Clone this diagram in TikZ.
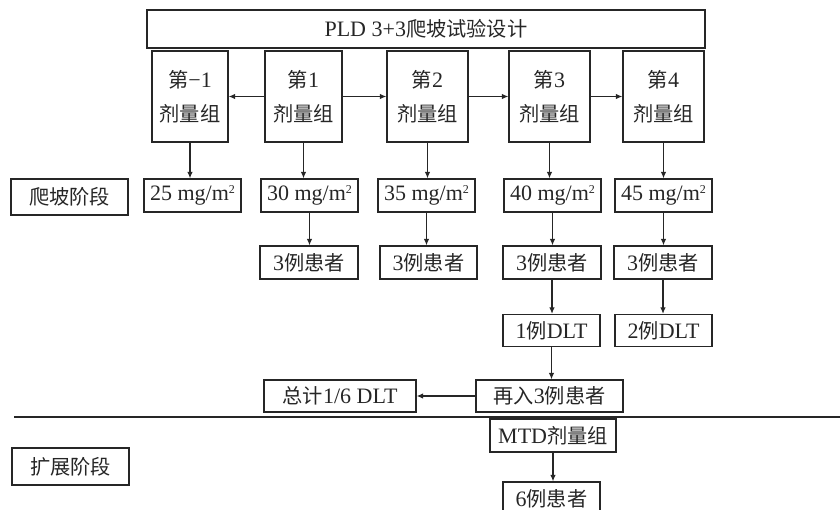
\documentclass[tikz,border=0pt]{standalone}
\usepackage{fontspec}
\setmainfont{Liberation Serif}
\newfontfamily\cjk[Scale=0.92]{Noto Sans CJK SC}
\usetikzlibrary{arrows.meta}
\newcommand{\zh}[1]{{\cjk #1}}
\newcommand{\msq}{\raisebox{0.75ex}{\fontsize{12}{12}\selectfont 2}}
\tikzset{
  box/.style={draw=black!85, line width=1.2pt, inner sep=0pt, text=black!85,
    font=\fontsize{22}{34}\selectfont, align=center},
  arr/.style={draw=black!85, line width=1.2pt, -{Latex[length=6.5pt,width=5.5pt]}}
}
\begin{document}
\begin{tikzpicture}[x=1pt,y=-1pt]
\useasboundingbox (0,0) rectangle (840,510);

% title
\node[box, minimum width=558, minimum height=38] (title) at (426,29) {PLD 3+3\zh{爬坡试验设计}};

% dose groups
\node[box, minimum width=76, minimum height=91] (g0) at (190,96.5) {\zh{第}−1\\\zh{剂量组}};
\node[box, minimum width=77, minimum height=91] (g1) at (303.5,96.5) {\zh{第}1\\\zh{剂量组}};
\node[box, minimum width=81, minimum height=91] (g2) at (427.5,96.5) {\zh{第}2\\\zh{剂量组}};
\node[box, minimum width=81, minimum height=91] (g3) at (549.5,96.5) {\zh{第}3\\\zh{剂量组}};
\node[box, minimum width=81, minimum height=91] (g4) at (663.5,96.5) {\zh{第}4\\\zh{剂量组}};
\draw[arr] (g1.west) -- (g0.east);
\draw[arr] (g1.east) -- (g2.west);
\draw[arr] (g2.east) -- (g3.west);
\draw[arr] (g3.east) -- (g4.west);

% doses
\node[box, minimum width=117, minimum height=36] (ramp) at (69.5,197) {\zh{爬坡阶段}};
\node[box, minimum width=97, minimum height=33] (d0) at (192.5,195.5) {25 mg/m\msq};
\node[box, minimum width=97, minimum height=33] (d1) at (309.5,195.5) {30 mg/m\msq};
\node[box, minimum width=97, minimum height=33] (d2) at (426.5,195.5) {35 mg/m\msq};
\node[box, minimum width=97, minimum height=33] (d3) at (552.5,195.5) {40 mg/m\msq};
\node[box, minimum width=97, minimum height=33] (d4) at (663.5,195.5) {45 mg/m\msq};
\foreach \i in {0,...,4}
  \draw[arr] (g\i.south) -- (g\i.south |- d\i.north);

% patients
\node[box, minimum width=98, minimum height=33] (p1) at (309,262.5) {3\zh{例患者}};
\node[box, minimum width=97, minimum height=33] (p2) at (428.5,262.5) {3\zh{例患者}};
\node[box, minimum width=98, minimum height=33] (p3) at (552,262.5) {3\zh{例患者}};
\node[box, minimum width=98, minimum height=33] (p4) at (663,262.5) {3\zh{例患者}};
\foreach \i in {1,...,4}
  \draw[arr] (d\i.south) -- (d\i.south |- p\i.north);

% DLT
\node[box, minimum width=97, minimum height=32] (dlt3) at (551.5,330.5) {1\zh{例}DLT};
\node[box, minimum width=97, minimum height=32] (dlt4) at (663.5,330.5) {2\zh{例}DLT};
\draw[arr] (p3.south) -- (p3.south |- dlt3.north);
\draw[arr] (p4.south) -- (p4.south |- dlt4.north);

\node[box, minimum width=147, minimum height=32] (more) at (549.5,396) {\zh{再入}3\zh{例患者}};
\node[box, minimum width=152, minimum height=32] (total) at (340,396) {\zh{总计}1/6 DLT};
\draw[arr] (dlt3.south) -- (dlt3.south |- more.north);
\draw[arr] (more.west) -- (total.east);

% divider
\coordinate (lineL) at (14,417);
\coordinate (lineR) at (840,417);
\draw[black!85, line width=1.4pt] (lineL) -- (lineR);

% expansion
\node[box, minimum width=117, minimum height=37] (expand) at (70.5,466.5) {\zh{扩展阶段}};
\node[box, minimum width=126, minimum height=33] (mtd) at (553,435.5) {MTD\zh{剂量组}};
\node[box, minimum width=97, minimum height=33] (six) at (551.5,498.5) {6\zh{例患者}};
\draw[arr] (mtd.south) -- (mtd.south |- six.north);
\end{tikzpicture}
\end{document}
